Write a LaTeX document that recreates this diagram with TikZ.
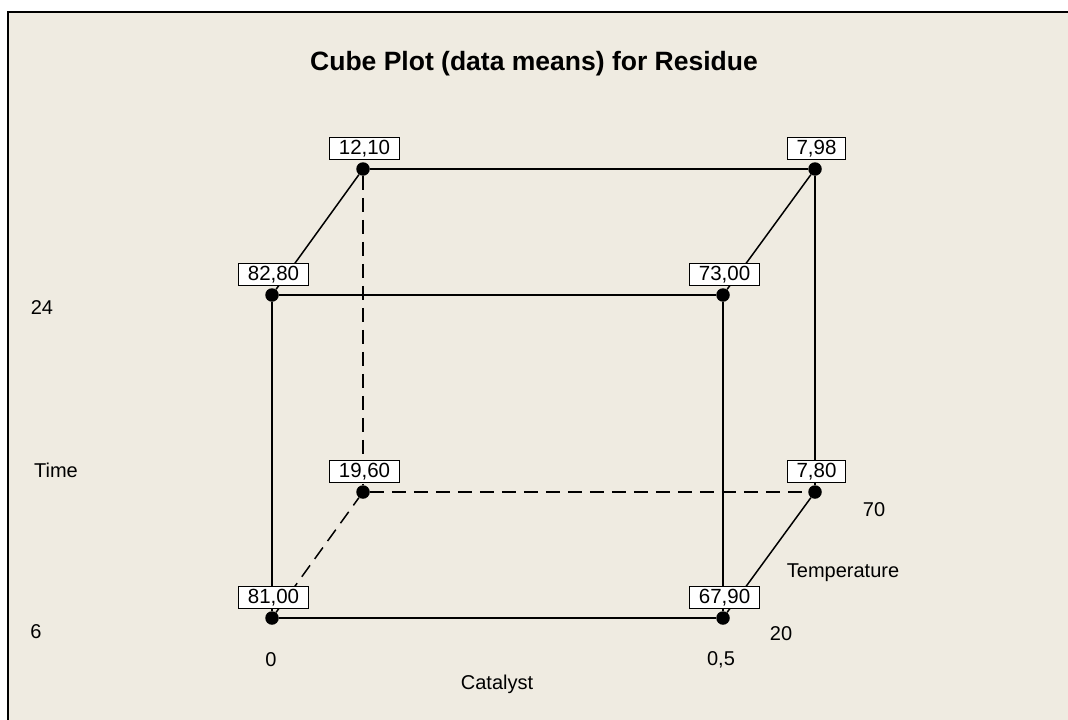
\documentclass[tikz,border=0pt]{standalone}
\usepackage{fontspec}
\setmainfont{Liberation Sans}
\usetikzlibrary{positioning}
\definecolor{Paper}{HTML}{EFEBE1}
\tikzset{
    every node/.style={font=\fontsize{20}{24}\selectfont},
    corner/.style={
        circle, fill=black, inner sep=0pt, minimum size=13.5pt
    },
    meanbox/.style={
        draw=black, fill=white, line width=1.2pt,
        inner xsep=9pt, inner ysep=0pt, minimum height=22pt,
        font=\fontsize{20.5}{24}\selectfont,
        above=2pt of #1, xshift=1.5pt
    },
    cubeedge/.style={line width=1.5pt},
    hiddenedge/.style={line width=1.5pt, dash pattern=on 14pt off 8pt},
}

\begin{document}
\begin{tikzpicture}[x=1pt, y=-1pt]
    % Page and frame
    \fill[white] (0,0) rectangle (1068,720);
    \useasboundingbox (0,0) rectangle (1068,720);
    \fill[Paper] (8,12) rectangle (1068,720);
    \draw[line width=2pt] (8,720) -- (8,12) -- (1068,12);

    \node[font=\fontsize{26.5}{30}\selectfont\bfseries] (title) at (534,64)
        {Cube Plot (data means) for Residue};

    % Cube corners (Catalyst, Time, Temperature)
    \node[corner] (n000) at (272,618) {};
    \node[corner] (n100) at (723,618) {};
    \node[corner] (n010) at (272,295) {};
    \node[corner] (n110) at (723,295) {};
    \node[corner] (n001) at (363,492) {};
    \node[corner] (n101) at (815,492) {};
    \node[corner] (n011) at (363,169) {};
    \node[corner] (n111) at (815,169) {};

    % Front face
    \draw[cubeedge] (n000) -- (n100) -- (n110) -- (n010) -- (n000);
    % Back face
    \draw[cubeedge] (n011) -- (n111) -- (n101);
    \draw[hiddenedge] (n011) -- (n001) -- (n101);
    % Depth edges
    \draw[cubeedge] (n010) -- (n011);
    \draw[cubeedge] (n110) -- (n111);
    \draw[cubeedge] (n100) -- (n101);
    \draw[hiddenedge] (n000) -- (n001);

    % Means
    \node[meanbox=n000] (m000) {81,00};
    \node[meanbox=n100] (m100) {67,90};
    \node[meanbox=n010] (m010) {82,80};
    \node[meanbox=n110] (m110) {73,00};
    \node[meanbox=n001] (m001) {19,60};
    \node[meanbox=n101] (m101) {7,80};
    \node[meanbox=n011] (m011) {12,10};
    \node[meanbox=n111] (m111) {7,98};

    % Factor levels
    \node (tHi) at (42,308) {24};
    \node (tName) at (56,470) {Time};
    \node (tLo) at (36,632) {6};
    \node (cLo) at (271,660) {0};
    \node (cHi) at (721,660) {0,5};
    \node (cName) at (497,684) {Catalyst};
    \node (pHi) at (874,510) {70};
    \node (pName) at (843,573) {Temperature};
    \node (pLo) at (781,634) {20};
\end{tikzpicture}
\end{document}
